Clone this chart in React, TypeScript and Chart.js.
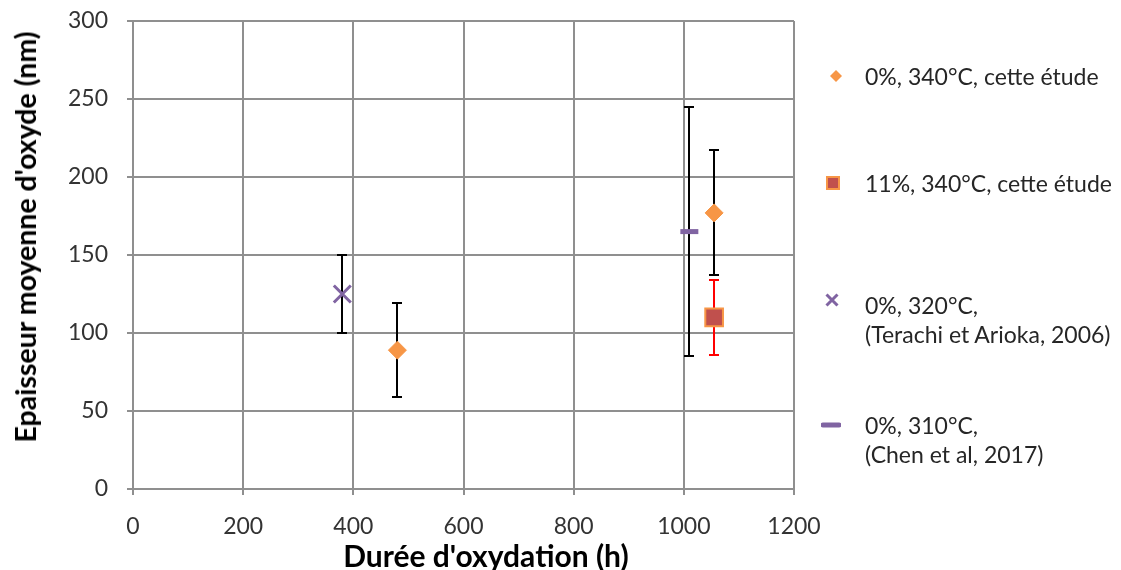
import React, { useEffect, useRef } from "react";
import { Chart, registerables } from "chart.js";

Chart.register(...registerables);

// ---- data ----
const etude0X = [480, 1055];
const etude0Y = [89, 177];
const etude0Err = [30, 40];

const etude11X = [1055];
const etude11Y = [110];
const etude11Err = [24];

const terachiX = [380];
const terachiY = [125];
const terachiErr = [25];

const chenX = [1010];
const chenY = [165];
const chenErr = [80];

const xTitle = "Durée d'oxydation (h)";
const yTitle = "Epaisseur moyenne d'oxyde (nm)";

const legendLines = [
  ["0%, 340°C, cette étude"],
  ["11%, 340°C, cette étude"],
  ["0%, 320°C,", "(Terachi et Arioka, 2006)"],
  ["0%, 310°C,", "(Chen et al, 2017)"],
];

const ORANGE = "#F79646";
const RED = "#C0504D";
const PURPLE = "#8064A2";
const GRID = "#8f8f8f";
const TICK = "#333333";
const FONT = "Lato";

const toPoints = (xs: number[], ys: number[]) => xs.map((x, i) => ({ x, y: ys[i] }));

const errorBarPlugin = {
  id: "errorBars",
  beforeDatasetsDraw(chart: any) {
    const { ctx, scales } = chart;
    const xs = scales.x;
    const ys = scales.y;
    chart.data.datasets.forEach((ds: any) => {
      if (!ds.errors) return;
      ctx.save();
      ctx.strokeStyle = ds.errorColor || "#000";
      ctx.lineWidth = 2;
      ds.data.forEach((p: any, i: number) => {
        const px = Math.round(xs.getPixelForValue(p.x));
        const top = Math.round(ys.getPixelForValue(p.y + ds.errors[i]));
        const bot = Math.round(ys.getPixelForValue(p.y - ds.errors[i]));
        ctx.beginPath();
        ctx.moveTo(px, top);
        ctx.lineTo(px, bot);
        ctx.moveTo(px - 5, top);
        ctx.lineTo(px + 5, top);
        ctx.moveTo(px - 5, bot);
        ctx.lineTo(px + 5, bot);
        ctx.stroke();
      });
      ctx.restore();
    });
  },
};

function Marker({ kind }: { kind: string }) {
  if (kind === "diamond")
    return (
      <svg width="20" height="20" viewBox="0 0 20 20">
        <polygon points="10,4 16,10 10,16 4,10" fill={ORANGE} />
      </svg>
    );
  if (kind === "square")
    return (
      <svg width="20" height="20" viewBox="0 0 20 20">
        <rect x="4" y="4" width="12" height="12" fill={RED} stroke={ORANGE} strokeWidth="2" />
      </svg>
    );
  if (kind === "cross")
    return (
      <svg width="20" height="20" viewBox="0 0 20 20">
        <path d="M4.5 4.5 L15.5 15.5 M15.5 4.5 L4.5 15.5" stroke={PURPLE} strokeWidth="3" />
      </svg>
    );
  return (
    <svg width="20" height="20" viewBox="0 0 20 20">
      <path d="M2 10 L18 10" stroke={PURPLE} strokeWidth="5" strokeLinecap="round" />
    </svg>
  );
}

export default function App() {
  const ref = useRef<HTMLCanvasElement | null>(null);

  useEffect(() => {
    if (!ref.current) return;
    const chart = new Chart(ref.current, {
      type: "scatter",
      data: {
        datasets: [
          {
            label: legendLines[0].join(" "),
            data: toPoints(etude0X, etude0Y),
            errors: etude0Err,
            errorColor: "#000000",
            pointStyle: "rectRot",
            pointRadius: 9,
            backgroundColor: ORANGE,
            borderColor: ORANGE,
            borderWidth: 1,
          } as any,
          {
            label: legendLines[1].join(" "),
            data: toPoints(etude11X, etude11Y),
            errors: etude11Err,
            errorColor: "#FF0000",
            pointStyle: "rect",
            pointRadius: 12.5,
            backgroundColor: RED,
            borderColor: ORANGE,
            borderWidth: 2,
          } as any,
          {
            label: legendLines[2].join(" "),
            data: toPoints(terachiX, terachiY),
            errors: terachiErr,
            errorColor: "#000000",
            pointStyle: "crossRot",
            pointRadius: 12,
            backgroundColor: PURPLE,
            borderColor: PURPLE,
            borderWidth: 3,
          } as any,
          {
            label: legendLines[3].join(" "),
            data: toPoints(chenX, chenY),
            errors: chenErr,
            errorColor: "#000000",
            pointStyle: "line",
            pointRadius: 9,
            backgroundColor: PURPLE,
            borderColor: PURPLE,
            borderWidth: 5,
          } as any,
        ],
      },
      options: {
        animation: false,
        responsive: true,
        maintainAspectRatio: false,
        layout: { padding: { top: 21, right: 327, left: 0, bottom: 0 } },
        plugins: { legend: { display: false }, tooltip: { enabled: false } },
        scales: {
          x: {
            type: "linear",
            min: 0,
            max: 1200,
            ticks: {
              stepSize: 200,
              color: TICK,
              font: { family: FONT, size: 23 },
              padding: 18,
              callback: (v: any) => String(v),
            },
            grid: { color: GRID, lineWidth: 2, tickLength: 6 },
            border: { color: GRID, width: 2 },
            title: { display: false },
            afterFit(s: any) {
              s.height = 81;
              s.paddingLeft = 0;
              s.paddingRight = 0;
            },
          },
          y: {
            type: "linear",
            min: 0,
            max: 300,
            ticks: {
              stepSize: 50,
              color: TICK,
              font: { family: FONT, size: 23 },
              padding: 19,
              callback: (v: any) => String(v),
            },
            grid: { color: GRID, lineWidth: 2, tickLength: 6 },
            border: { color: GRID, width: 2 },
            title: { display: false },
            afterFit(s: any) {
              s.width = 133;
              s.paddingTop = 0;
              s.paddingBottom = 0;
            },
          },
        },
      } as any,
      plugins: [errorBarPlugin],
    });
    return () => chart.destroy();
  }, []);

  const legendItems = [
    { kind: "diamond", mx: 836, my: 76, lines: legendLines[0], ty: 76 },
    { kind: "square", mx: 833, my: 183, lines: legendLines[1], ty: 183 },
    { kind: "cross", mx: 832, my: 300, lines: legendLines[2], ty: 305 },
    { kind: "dash", mx: 831, my: 425, lines: legendLines[3], ty: 425 },
  ];

  return (
    <div style={{ position: "absolute", left: 0, top: 0, width: 1121, height: 570, background: "#fff" }}>
      <canvas ref={ref} />
      {/* y axis title */}
      <div
        style={{
          position: "absolute",
          left: 25,
          top: 237,
          transform: "translate(-50%, -50%) rotate(-90deg)",
          whiteSpace: "nowrap",
          fontFamily: FONT,
          fontWeight: "bold",
          fontSize: 28.5,
          lineHeight: "34px",
          color: "#000",
        }}
      >
        {yTitle}
      </div>
      {/* x axis title */}
      <div
        style={{
          position: "absolute",
          left: 486,
          top: 555,
          transform: "translate(-50%, -50%)",
          whiteSpace: "nowrap",
          fontFamily: FONT,
          fontWeight: "bold",
          fontSize: 30,
          lineHeight: "34px",
          color: "#000",
        }}
      >
        {xTitle}
      </div>
      {legendItems.map((it, i) => (
        <React.Fragment key={i}>
          <div style={{ position: "absolute", left: it.mx - 10, top: it.my - 10, width: 20, height: 20 }}>
            <Marker kind={it.kind} />
          </div>
          {it.lines.map((ln, j) => (
            <div
              key={j}
              style={{
                position: "absolute",
                left: 865,
                top: it.ty - 15 + j * 29,
                height: 30,
                lineHeight: "30px",
                fontFamily: FONT,
                fontSize: 23,
                color: "#262626",
                whiteSpace: "nowrap",
              }}
            >
              {ln}
            </div>
          ))}
        </React.Fragment>
      ))}
    </div>
  );
}
